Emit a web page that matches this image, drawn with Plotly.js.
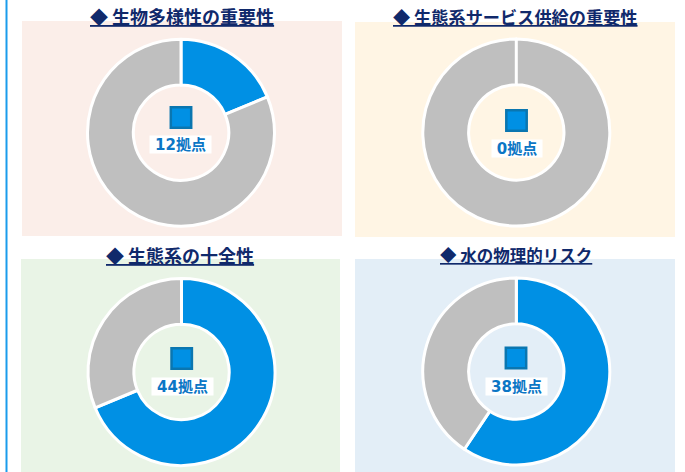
<!DOCTYPE html>
<html><head><meta charset="utf-8">
<script src="https://cdn.plot.ly/plotly-3.0.1.min.js"></script>
<style>html,body{margin:0;padding:0;background:#fff;overflow:hidden}#c{width:685px;height:472px}</style>
</head><body><div id="c"></div>
<script>
// Data
const titles = ['◆ 生物多様性の重要性','◆ 生態系サービス供給の重要性','◆ 生態系の十全性','◆ 水の物理的リスク'];
const sites = [12, 0, 44, 38];
const others = [52, 64, 20, 26];
const unit = '拠点';

// Layout helpers (pixels of the 685x472 page)
const W = 685, H = 472;
const px = x => x / W, py = y => 1 - y / H;
const panelBoxes = [[22,21,342,236],[355,22,675,237],[21,259,340,472],[355,259,675,472]];
const panelColors = ['#FBEEE9','#FFF5E4','#E9F4E6','#E3EEF7'];
const ringCentres = [[181,132.7],[516.3,132.5],[181.5,372],[516.3,371.5]];
const R = 93.5;
const titlePos = [[181.7,16],[515,16],[180,255],[515.5,255]];
const titleSizes = [18,17.2,18,16.5];
const squarePos = [[181,117.5],[516.5,120.5],[181.7,358.5],[516,358]];
const labelPos = [[180.5,145],[517,148],[182,386.5],[516,386.5]];
const BLUE = '#0090E4', GREY = '#BFBFBF', sliver = 1e-4;

const data = sites.map((s,i)=>({
  type:'pie', values:[s || sliver, others[i]], labels:['対象','その他'],
  sort:false, direction:'clockwise', rotation:0, hole:0.51,
  textinfo:'none', hoverinfo:'none', showlegend:false,
  marker:{colors:[BLUE,GREY], line:{color:'#fff',width:3}},
  domain:{x:[px(ringCentres[i][0]-R),px(ringCentres[i][0]+R)],
          y:[py(ringCentres[i][1]+R),py(ringCentres[i][1]-R)]}
}));

const shapes = [];
panelBoxes.forEach((b,i)=>shapes.push({type:'rect',xref:'paper',yref:'paper',layer:'below',
  x0:px(b[0]),x1:px(b[2]),y0:py(b[3]),y1:py(b[1]),fillcolor:panelColors[i],line:{width:0}}));
shapes.push({type:'rect',xref:'paper',yref:'paper',layer:'below',x0:px(5.5),x1:px(7.5),y0:0,y1:1,
  fillcolor:'#1A9CEC',line:{width:0}});
squarePos.forEach(p=>shapes.push({type:'rect',xref:'paper',yref:'paper',layer:'above',
  x0:px(p[0]-10.2),x1:px(p[0]+10.2),y0:py(p[1]+10.2),y1:py(p[1]-10.2),
  fillcolor:BLUE,line:{color:'#0A76B0',width:2.5}}));

const annotations = [];
titles.forEach((t,i)=>annotations.push({xref:'paper',yref:'paper',x:px(titlePos[i][0]),y:py(titlePos[i][1]),
  xanchor:'center',yanchor:'middle',showarrow:false,text:'<b><u>'+t+'</u></b>',
  font:{family:'"Noto Sans CJK JP"',size:titleSizes[i],color:'#10296B'}}));
sites.forEach((s,i)=>annotations.push({xref:'paper',yref:'paper',x:px(labelPos[i][0]),y:py(labelPos[i][1]),
  xanchor:'center',yanchor:'middle',showarrow:false,text:'<b>'+s+unit+'</b>',
  bgcolor:'#fff',borderpad:0,width:(String(s).length*11+39),height:17,
  font:{family:'"DejaVu Sans","Noto Sans CJK JP"',size:15,color:'#0B76C5'}}));

Plotly.newPlot('c',data,{width:W,height:H,margin:{l:0,r:0,t:0,b:0},
  paper_bgcolor:'#fff',shapes,annotations},{displayModeBar:false,staticPlot:true});
</script></body></html>
